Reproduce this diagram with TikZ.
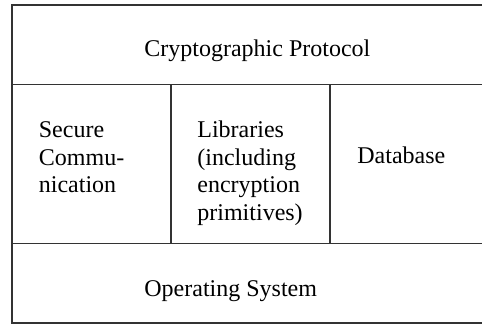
\documentclass[tikz,border=0pt]{standalone}
\usepackage{fontspec}
\setmainfont{Liberation Serif}
\usetikzlibrary{positioning}

\begin{document}
\begin{tikzpicture}[x=0.5pt,y=-0.5pt]
\tikzstyle{every node}+=[inner sep=0pt]
\tikzstyle{layer}=[draw=black!80, line width=0.75pt]
\tikzstyle{label}=[font=\fontsize{12}{13.8}\selectfont, align=left, anchor=base west]
\useasboundingbox (0,0) rectangle (482,325);
\clip (0,0) rectangle (482,325);
% layers
\draw [layer] (12,5) rectangle (500,84.7);
\draw [layer] (12,84.7) rectangle (171,243.7);
\draw [layer] (171,84.7) rectangle (330,243.7);
\draw [layer] (330,84.7) rectangle (500,243.7);
\draw [layer] (12,243.7) rectangle (500,323);
% texts (multi-line ones sit on their last line)
\node [label] (proto) at (144,56.7) {Cryptographic Protocol};
\node [label] (secure) at (38.5,192.7) {Secure\\Commu-\\nication};
\node [label] (libs) at (197,220.3) {Libraries\\(including\\encryption\\primitives)};
\node [label] (db) at (357,164) {Database};
\node [label] (os) at (144,297) {Operating System};
\end{tikzpicture}
\end{document}
